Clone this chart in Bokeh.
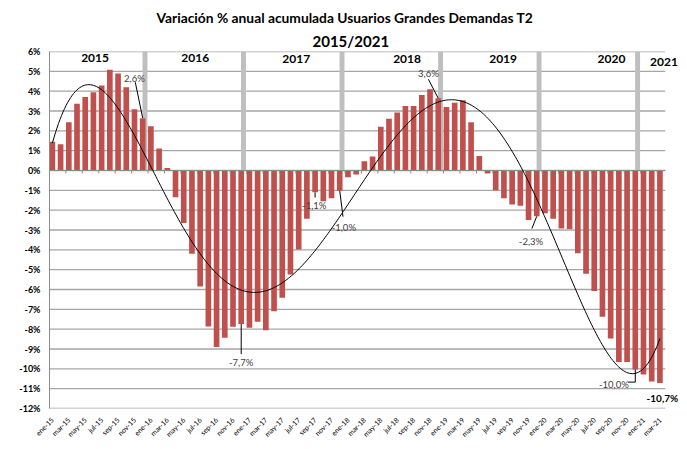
import numpy as np
from bokeh.plotting import figure
from bokeh.models import (ColumnDataSource, FixedTicker, PrintfTickFormatter,
                          Label, Title, Range1d)
from bokeh.embed import file_html
from bokeh.resources import INLINE

# ---------------- data ----------------
months = ["ene", "feb", "mar", "abr", "may", "jun",
          "jul", "ago", "sep", "oct", "nov", "dic"]
years = ["15", "16", "17", "18", "19", "20", "21"]
periods = [f"{m}-{y}" for y in years for m in months][:75]   # ene-15 .. mar-21

variacion = [
    1.45, 1.32, 2.43, 3.37, 3.71, 3.95, 4.28, 5.08, 4.89, 4.20, 3.09, 2.63,        # 2015
    2.23, 1.11, 0.13, -1.35, -2.65, -4.20, -5.85, -7.86, -8.90, -8.43, -7.88, -7.74,  # 2016
    -7.93, -7.62, -8.06, -7.10, -6.41, -5.24, -3.98, -2.43, -1.10, -1.55, -1.40, -1.02,  # 2017
    -0.34, -0.20, 0.47, 0.71, 2.21, 2.61, 2.92, 3.25, 3.25, 3.81, 4.10, 3.64,      # 2018
    3.20, 3.41, 3.54, 2.43, 0.73, -0.15, -1.00, -1.40, -1.72, -1.78, -2.49, -2.31,  # 2019
    -2.16, -2.43, -2.92, -2.95, -4.17, -5.21, -6.07, -7.37, -8.47, -9.65, -9.65, -10.03,  # 2020
    -10.29, -10.64, -10.71,                                                       # 2021
]

# year separators (grey columns at each December)
separator_periods = ["dic-15", "dic-16", "dic-17", "dic-18", "dic-19", "dic-20"]
separator_value = [6, 6, 6, 6, 6, 6]

year_labels = ["2015", "2016", "2017", "2018", "2019", "2020", "2021"]

# highlighted data labels
label_periods = ["dic-15", "dic-16", "sep-17", "dic-17", "dic-18", "dic-19", "dic-20", "mar-21"]
label_texts = ["2,6%", "-7,7%", "-1,1%", "-1,0%", "3,6%", "-2,3%", "-10,0%", "-10,7%"]

y_ticks = list(range(-12, 7))
x_tick_labels = periods[::2]

# ---------------- layout / style ----------------
idx = {p: i for i, p in enumerate(periods)}
x = np.arange(len(variacion))
X0, X1 = -0.35, 74.65          # extent of the plot area (categories)

RED = "#C0504D"
GREY_BAND = "#BFBFBF"
GRID = "#A6A6A6"
AXIS = "#8C8C8C"
FONT = "Lato"

year_label_pos = [(5.2, 5.66), (17.4, 5.66), (29.7, 5.64), (43.2, 5.64),
                  (54.9, 5.64), (68.1, 5.64), (74.5, 5.45)]

p = figure(width=685, height=447, output_backend="svg", toolbar_location=None,
           x_range=Range1d(X0, 76.75), y_range=Range1d(-12, 6),
           min_border_left=49, min_border_right=3, min_border_top=51,
           min_border_bottom=39, outline_line_color=None,
           background_fill_color="white", border_fill_color="white")

# titles
p.add_layout(Title(text="2015/2021", align="left", text_font=FONT,
                   text_font_size="15px", text_font_style="bold",
                   text_color="#000000", standoff=4, offset=263), "above")
p.add_layout(Title(text="Variación % anual acumulada Usuarios Grandes Demandas T2",
                   align="left", text_font=FONT, text_font_size="13.8px",
                   text_font_style="bold", text_color="#000000", standoff=4,
                   offset=107), "above")

# horizontal gridlines limited to the category area
p.segment(x0=X0, y0=y_ticks, x1=X1, y1=y_ticks, line_color=GRID, line_width=1.3)

# grey separator columns
sep_src = ColumnDataSource(dict(x=[idx[s] + 0.28 for s in separator_periods],
                                top=separator_value))
p.vbar(x="x", top="top", bottom=0, width=0.6, source=sep_src,
       fill_color=GREY_BAND, line_color=None)

# main bars
src = ColumnDataSource(dict(x=x, top=variacion))
p.vbar(x="x", top="top", bottom=0, width=0.69, source=src,
       fill_color=RED, line_color=None)

# zero axis line with tick marks every 2 categories
p.segment(x0=[X0], y0=[0], x1=[X1], y1=[0], line_color=AXIS, line_width=1)
tick_x = np.arange(X0 + 2, X1, 2)
p.segment(x0=tick_x, y0=0, x1=tick_x, y1=-0.15, line_color=AXIS, line_width=1)

# polynomial trend line (order 5 least-squares fit of the series)
coef = np.polyfit(x + 1, variacion, 5)
xs = np.linspace(0, 74, 400)
p.line(xs, np.polyval(coef, xs + 1), line_color="black", line_width=1)

# axes
p.yaxis.ticker = FixedTicker(ticks=y_ticks)
p.yaxis.formatter = PrintfTickFormatter(format="%d%%")
p.yaxis.major_label_text_font = FONT
p.yaxis.major_label_text_font_style = "bold"
p.yaxis.major_label_text_font_size = "9px"
p.yaxis.major_label_text_color = "#000000"
p.yaxis.axis_line_color = AXIS
p.yaxis.major_tick_line_color = None
p.yaxis.minor_tick_line_color = None
p.yaxis.major_label_standoff = 3

p.xaxis.ticker = FixedTicker(ticks=list(x[::2]))
p.xaxis.major_label_overrides = {int(i): lab for i, lab in zip(x[::2], x_tick_labels)}
p.xaxis.major_label_orientation = np.pi / 4
p.xaxis.major_label_text_font = FONT
p.xaxis.major_label_text_font_size = "7px"
p.xaxis.major_label_text_color = "#000000"
p.xaxis.axis_line_color = None
p.xaxis.major_tick_line_color = None
p.xaxis.minor_tick_line_color = None
p.xaxis.major_label_standoff = 4

p.xgrid.grid_line_color = None
p.ygrid.grid_line_color = None

# year labels
for lab, (lx, ly) in zip(year_labels, year_label_pos):
    p.add_layout(Label(x=lx, y=ly, text=lab, text_align="center",
                       text_baseline="middle", text_font=FONT, text_font_style="bold",
                       text_font_size="12px", text_color="#000000"))

# data labels with leader lines (offsets in category / percent units)
label_dx = [-1.0, 0.0, -0.1, 0.5, -1.2, -0.7, -2.6, 0.3]
label_dy = [2.02, -1.95, -0.68, -1.87, 1.26, -1.29, -0.74, -0.75]
lead = [(-0.9, 1.82, 0.0, 0.02), (0.0, -1.52, 0.0, 0.0), (0.0, -0.26, 0.0, 0.0),
        (0.4, -1.31, 0.0, 0.0), (-1.2, 0.96, 0.0, 0.0), (-0.6, -0.62, 0.0, 0.0),
        (0.0, -0.64, 0.0, 0.0), None]
for per, txt, dx, dy, ld in zip(label_periods, label_texts, label_dx, label_dy, lead):
    i = idx[per]
    v = variacion[i]
    bold = txt == "-10,7%"
    p.add_layout(Label(x=i + dx, y=v + dy, text=txt, text_align="center",
                       text_baseline="middle", text_font=FONT,
                       text_font_style="bold" if bold else "normal",
                       text_font_size="10px" if bold else "9.5px",
                       text_color="#000000" if bold else "#404040"))
    if ld is not None:
        p.segment(x0=[i + ld[2]], y0=[v + ld[3]], x1=[i + ld[0]], y1=[v + ld[1]],
                  line_color="black", line_width=1)
        if txt == "-10,0%":
            p.segment(x0=[i], y0=[v + ld[1]], x1=[i - 0.9], y1=[v + ld[1]],
                      line_color="black", line_width=1)

open("out.html", "w").write(file_html(p, INLINE))
